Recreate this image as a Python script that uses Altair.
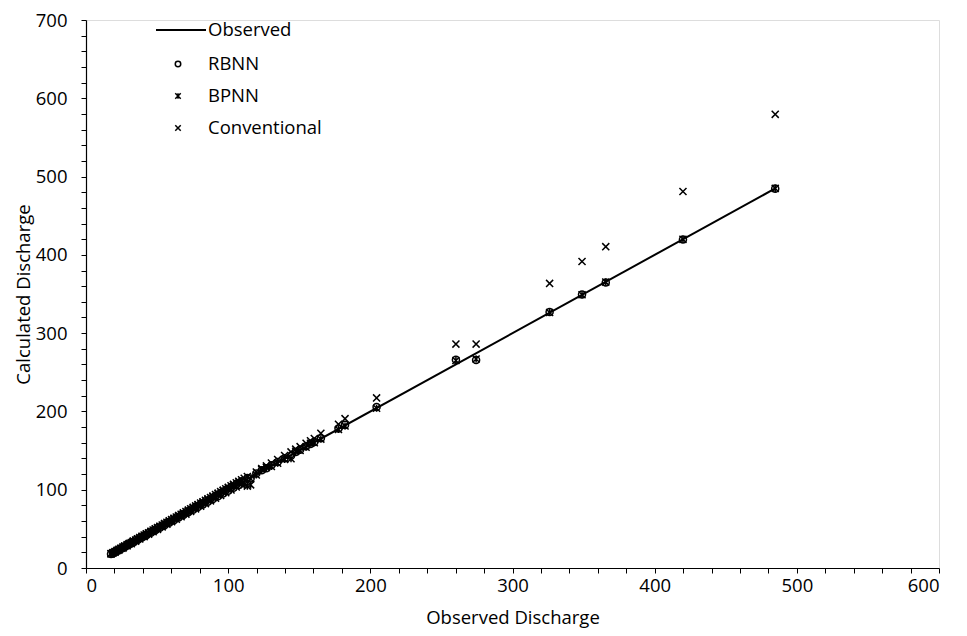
import altair as alt
import pandas as pd

# ---- data ----
observed = [17.6, 19.0, 20.4, 21.9, 23.1, 24.6, 26.0, 27.3, 28.9, 30.4,
            31.8, 33.2, 34.9, 36.3, 37.8, 39.4, 40.9, 42.5, 44.0, 45.7,
            47.2, 48.8, 50.3, 52.0, 53.6, 55.3, 56.9, 58.6, 60.2, 61.9,
            63.5, 65.2, 66.9, 68.5, 70.3, 72.0, 73.6, 75.4, 77.1, 78.8,
            80.6, 82.3, 84.0, 85.8, 87.6, 89.3, 91.1, 92.9, 94.7, 96.5,
            98.3, 100.1, 102.0, 103.8, 105.7, 107.5, 109.4, 111.3, 113.5, 115.8,
            119.8, 123.6, 126.9, 130.4, 134.8, 139.7, 144.2, 147.5, 150.6, 154.8,
            157.9, 160.6, 165.2, 177.6, 182.2, 204.4, 260.2, 274.4, 326.1, 348.9,
            365.6, 419.9, 484.8]

rbnn = [17.9, 18.6, 20.9, 21.5, 23.8, 24.2, 26.5, 27.0, 29.6, 30.0,
        32.5, 32.7, 35.6, 35.8, 38.4, 38.9, 41.6, 42.0, 44.8, 45.1,
        47.9, 48.2, 51.0, 51.4, 54.4, 54.6, 57.7, 57.9, 61.0, 61.1,
        64.4, 64.5, 67.8, 67.7, 71.2, 71.1, 74.6, 74.5, 78.1, 77.9,
        81.7, 81.3, 85.1, 84.7, 88.8, 88.2, 92.3, 91.7, 95.9, 95.3,
        99.6, 98.8, 103.3, 102.5, 107.1, 106.1, 110.8, 109.9, 114.9, 114.4,
        120.6, 124.8, 127.5, 131.2, 135.3, 140.1, 143.5, 148.2, 151.2, 155.6,
        158.5, 161.1, 165.8, 178.3, 182.8, 205.6, 266.1, 265.8, 327.0, 349.4,
        364.8, 419.6, 484.6]

bpnn = [18.3, 19.4, 20.1, 22.6, 22.7, 25.3, 25.4, 28.1, 28.3, 31.2,
        31.1, 34.0, 34.2, 37.1, 37.0, 40.3, 40.1, 43.4, 43.2, 46.6,
        46.3, 49.8, 49.4, 53.0, 52.6, 56.4, 55.9, 59.7, 59.1, 63.1,
        62.3, 66.5, 65.6, 69.9, 68.9, 73.4, 72.1, 76.9, 75.6, 80.4,
        79.0, 84.0, 82.3, 87.6, 85.8, 91.2, 89.2, 94.9, 92.6, 98.6,
        96.1, 102.3, 99.8, 106.1, 103.4, 109.9, 107.0, 106.5, 104.6, 106.2,
        118.9, 125.9, 128.4, 129.6, 133.9, 138.8, 139.5, 149.0, 150.1, 154.2,
        159.3, 160.0, 164.7, 176.9, 181.5, 204.0, 265.0, 267.0, 326.4, 349.0,
        365.2, 419.8, 484.9]

conventional = [18.1, 19.6, 21.0, 22.4, 23.9, 25.2, 26.9, 28.0, 29.8, 31.3,
                32.6, 34.3, 35.8, 37.4, 38.9, 40.5, 42.0, 43.8, 45.1, 47.0,
                48.4, 50.1, 51.7, 53.4, 55.0, 56.8, 58.3, 60.2, 61.8, 63.6,
                65.1, 67.0, 68.7, 70.4, 72.2, 74.0, 75.7, 77.5, 79.3, 81.0,
                82.9, 84.6, 86.4, 88.3, 90.1, 91.9, 93.8, 95.6, 97.5, 99.4,
                101.2, 103.1, 105.0, 106.9, 108.9, 110.7, 112.7, 114.6, 116.9, 113.9,
                122.7, 127.1, 130.4, 134.0, 138.6, 143.6, 148.3, 151.8, 155.0, 159.4,
                162.6, 165.4, 172.0, 183.5, 190.8, 217.3, 286.0, 286.0, 363.5, 391.5,
                410.5, 481.0, 579.5]

series_names = ["RBNN", "BPNN", "Conventional"]
legend_labels = ["Observed", "RBNN", "BPNN", "Conventional"]
tick_values = list(range(0, 601, 20))
y_tick_values = list(range(0, 701, 20))

# ---- build tables ----
rows = []
for name, vals in zip(series_names, [rbnn, bpnn, conventional]):
    for o, c in zip(observed, vals):
        rows.append({"obs": o, "calc": c, "series": name})
df = pd.DataFrame(rows)

line_df = pd.DataFrame({"obs": [min(observed), max(observed)],
                        "calc": [min(observed), max(observed)]})

STAR_PATH = "M-1,-1L1,1M-1,1L1,-1M0,-1L0,1"
X_PATH = "M-1,-1L1,1M-1,1L1,-1"
shape_range = ["circle", STAR_PATH, X_PATH]

FONT = "Open Sans"
FS = 18.5
LFS = 18.5

def make_axis(title, values, label_pad, title_pad):
    return alt.Axis(
        title=title, values=values,
        labelExpr="datum.value % 100 === 0 ? datum.label : ''",
        grid=False, tickSize=5, tickWidth=1, domainWidth=1.2,
        domainColor="black", tickColor="black",
        labelColor="black", titleColor="black",
        labelFont=FONT, titleFont=FONT, labelFontSize=FS, titleFontSize=FS,
        titleFontWeight="normal", labelOverlap=False, labelPadding=label_pad,
        titlePadding=title_pad,
    )

x_enc = alt.X("obs:Q", scale=alt.Scale(domain=[0, 600], nice=False),
              axis=make_axis("Observed Discharge", tick_values, 3, 14))
y_enc = alt.Y("calc:Q", scale=alt.Scale(domain=[0, 700], nice=False),
              axis=make_axis("Calculated Discharge", y_tick_values, 14, 2))

line = alt.Chart(line_df).mark_line(color="black", strokeWidth=2).encode(x=x_enc, y=y_enc)

points = alt.Chart(df).mark_point(filled=False, color="black", strokeWidth=1.5, size=50, opacity=1).encode(
    x=x_enc, y=y_enc,
    shape=alt.Shape("series:N", scale=alt.Scale(domain=series_names, range=shape_range), legend=None),
)

# ---- manual legend (top-left, inside the plot) ----
leg_line = alt.Chart(line_df).mark_rule(color="black", strokeWidth=2).encode(
    x=alt.value(70), x2=alt.value(120), y=alt.value(10))
leg_text_df = pd.DataFrame({"label": legend_labels, "ypix": [10, 44, 76, 108]})
leg_text = alt.Chart(leg_text_df).mark_text(
    align="left", baseline="middle", font=FONT, fontSize=LFS, color="black"
).encode(x=alt.value(122), y=alt.Y("ypix:Q", scale=None), text="label:N")
leg_sym_df = pd.DataFrame({"series": series_names, "ypix": [44, 76, 108]})
leg_sym = alt.Chart(leg_sym_df).mark_point(filled=False, color="black", strokeWidth=1.5, size=30, opacity=1).encode(
    x=alt.value(92), y=alt.Y("ypix:Q", scale=None),
    shape=alt.Shape("series:N", scale=alt.Scale(domain=series_names, range=shape_range), legend=None),
)

chart = alt.layer(line, points, leg_line, leg_sym, leg_text).properties(
    width=853, height=548,
    autosize=alt.AutoSizeParams(type="none"),
    padding={"left": 78, "top": 12, "right": 18, "bottom": 60},
).configure_view(stroke=None).configure(background="white")

chart.save("out.html", embed_options={"renderer": "svg", "actions": False})
